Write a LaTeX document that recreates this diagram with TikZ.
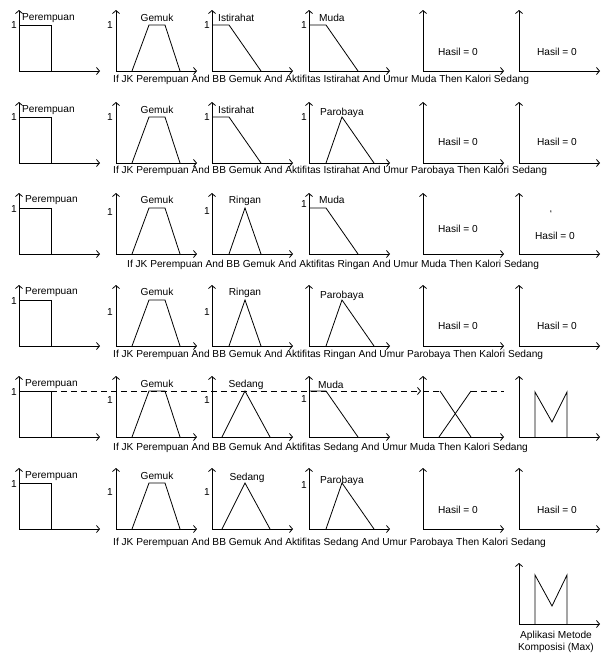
\documentclass[tikz,border=0pt]{standalone}
\usepackage{fontspec}
\setmainfont{Liberation Sans}
\usetikzlibrary{arrows.meta}
\newcommand\mfaxes[2]{\draw[axis] (#1,#2-61) -- (#1,#2) -- (#1+81,#2);}
\newcommand\mfper[2]{\draw[shp,shift={(#1,#2)}] (0,-46) -- (32,-46) -- (32,0);}
\newcommand\mfgem[2]{\draw[shp,shift={(#1,#2)}] (16,0) -- (33,-46) -- (49,-46) -- (64,0);}
\newcommand\mfist[2]{\draw[shp,shift={(#1,#2)}] (0,-46) -- (17,-46) -- (49,0);}
\newcommand\mfrin[2]{\draw[shp,shift={(#1,#2)}] (17,0) -- (33,-46) -- (49,0);}
\newcommand\mfsed[2]{\draw[shp,shift={(#1,#2)}] (10,0) -- (33,-46) -- (58,0);}
\newcommand\mfpar[2]{\draw[shp,shift={(#1,#2)}] (17,0) -- (33,-46) -- (65,0);}
\begin{document}
\begin{tikzpicture}[x=1pt,y=-1pt,
  axis/.style={line width=0.8pt,{Straight Barb[length=3pt,width=7pt]}-{Straight Barb[length=3pt,width=7pt]}},
  shp/.style={line width=0.8pt},
  txt/.style={font=\fontsize{10.15}{12.5}\selectfont,inner sep=0pt},
  dsh/.style={line width=0.8pt,dash pattern=on 6pt off 4pt}]
\useasboundingbox (0,0) rectangle (604,653);
% axes
\foreach \by in {71,163,254,346,437,529}{
  \foreach \ox in {19,116,212,309,423,519}{\mfaxes{\ox}{\by}}}
\mfaxes{519}{624}
% ---------- Row 1
\mfper{19}{71}\mfgem{116}{71}\mfist{212}{71}\mfist{309}{71}
\node[txt,anchor=west] (r1a) at (22,18) {Perempuan};
\node[txt] (r1b) at (157,18) {Gemuk};
\node[txt,anchor=west] (r1c) at (218,18) {Istirahat};
\node[txt,anchor=west] (r1d) at (319,18) {Muda};
\node[txt] (r1e) at (458,52) {Hasil = 0};
\node[txt] (r1f) at (557,52) {Hasil = 0};
\node[txt] (r1o1) at (14,25) {1};
\node[txt] (r1o2) at (110,25) {1};
\node[txt] (r1o3) at (207,25) {1};
\node[txt] (r1o4) at (304,25) {1};
\node[txt,anchor=west] (r1cap) at (113,80) {If JK Perempuan And BB Gemuk And Aktifitas Istirahat And Umur Muda Then Kalori Sedang};
% ---------- Row 2
\mfper{19}{163}\mfgem{116}{163}\mfist{212}{163}\mfpar{309}{163}
\node[txt,anchor=west] (r2a) at (22,110) {Perempuan};
\node[txt] (r2b) at (157,110) {Gemuk};
\node[txt,anchor=west] (r2c) at (218,110) {Istirahat};
\node[txt,anchor=west] (r2d) at (320,113) {Parobaya};
\node[txt] (r2e) at (458,142) {Hasil = 0};
\node[txt] (r2f) at (557,142) {Hasil = 0};
\node[txt] (r2o1) at (14,117) {1};
\node[txt] (r2o2) at (110,117) {1};
\node[txt] (r2o3) at (207,117) {1};
\node[txt] (r2o4) at (304,117) {1};
\node[txt,anchor=west] (r2cap) at (113,171) {If JK Perempuan And BB Gemuk And Aktifitas Istirahat And Umur Parobaya Then Kalori Sedang};
% ---------- Row 3
\mfper{19}{254}\mfgem{116}{254}\mfrin{212}{254}\mfist{309}{254}
\node[txt,anchor=west] (r3a) at (25,200) {Perempuan};
\node[txt] (r3b) at (157,200) {Gemuk};
\node[txt] (r3c) at (245,201) {Ringan};
\node[txt,anchor=west] (r3d) at (319,200) {Muda};
\node[txt] (r3e) at (458,229) {Hasil = 0};
\node[txt] (r3f) at (555,236) {Hasil = 0};
\node[txt] (r3t) at (551,214) {`};
\node[txt] (r3o1) at (14,209) {1};
\node[txt] (r3o2) at (110,212) {1};
\node[txt] (r3o3) at (207,211) {1};
\node[txt] (r3o4) at (304,204) {1};
\node[txt,anchor=west] (r3cap) at (127,265) {If JK Perempuan And BB Gemuk And Aktifitas Ringan And Umur Muda Then Kalori Sedang};
% ---------- Row 4
\mfper{19}{346}\mfgem{116}{346}\mfrin{212}{346}\mfpar{309}{346}
\node[txt,anchor=west] (r4a) at (25,292) {Perempuan};
\node[txt] (r4b) at (157,292) {Gemuk};
\node[txt] (r4c) at (245,293) {Ringan};
\node[txt,anchor=west] (r4d) at (320,296) {Parobaya};
\node[txt] (r4e) at (458,326) {Hasil = 0};
\node[txt] (r4f) at (557,326) {Hasil = 0};
\node[txt] (r4o1) at (14,301) {1};
\node[txt] (r4o2) at (110,312) {1};
\node[txt] (r4o3) at (207,312) {1};
\node[txt,anchor=west] (r4cap) at (113,355) {If JK Perempuan And BB Gemuk And Aktifitas Ringan And Umur Parobaya Then Kalori Sedang};
% ---------- Row 5
\mfper{19}{437}\mfgem{116}{437}\mfsed{212}{437}\mfist{309}{437}
\coordinate (r5s) at (51,391);
\coordinate (r5t) at (421,391);
\draw[dsh,-{Straight Barb[length=3pt,width=7pt]}] (r5s) -- (r5t);
\begin{scope}[shift={(423,437)}]
  \draw[dsh] (0,-46) -- (17,-46);
  \draw[shp] (17,-46) -- (48,0);
  \draw[shp] (16,0) -- (48,-46);
  \draw[dsh] (48,-46) -- (81,-46);
\end{scope}
\draw[shp,shift={(519,437)}] (16,0) -- (16,-45) -- (33,-15) -- (48,-45) -- (48,0);
\node[txt,anchor=west] (r5a) at (25,384) {Perempuan};
\node[txt] (r5b) at (157,384) {Gemuk};
\node[txt] (r5c) at (246,385) {Sedang};
\node[txt,anchor=west] (r5d) at (318,385) {Muda};
\node[txt] (r5o1) at (14,392) {1};
\node[txt] (r5o2) at (110,400) {1};
\node[txt] (r5o3) at (207,400) {1};
\node[txt] (r5o4) at (304,399) {1};
\node[txt,anchor=west] (r5cap) at (113,448) {If JK Perempuan And BB Gemuk And Aktifitas Sedang And Umur Muda Then Kalori Sedang};
% ---------- Row 6
\mfper{19}{529}\mfgem{116}{529}\mfsed{212}{529}\mfpar{309}{529}
\node[txt,anchor=west] (r6a) at (25,476) {Perempuan};
\node[txt] (r6b) at (157,476) {Gemuk};
\node[txt] (r6c) at (247,478) {Sedang};
\node[txt,anchor=west] (r6d) at (320,481) {Parobaya};
\node[txt] (r6e) at (458,510) {Hasil = 0};
\node[txt] (r6f) at (557,510) {Hasil = 0};
\node[txt] (r6o1) at (14,484) {1};
\node[txt] (r6o2) at (110,492) {1};
\node[txt] (r6o3) at (207,492) {1};
\node[txt] (r6o4) at (304,485) {1};
\node[txt,anchor=west] (r6cap) at (113,543) {If JK Perempuan And BB Gemuk And Aktifitas Sedang And Umur Parobaya Then Kalori Sedang};
% ---------- Final composition
\draw[shp,shift={(519,624)}] (16,0) -- (16,-49) -- (33,-18) -- (48,-49) -- (48,0);
\node[txt,align=center] (fin) at (556,642) {Aplikasi Metode\\Komposisi (Max)};
\end{tikzpicture}
\end{document}
